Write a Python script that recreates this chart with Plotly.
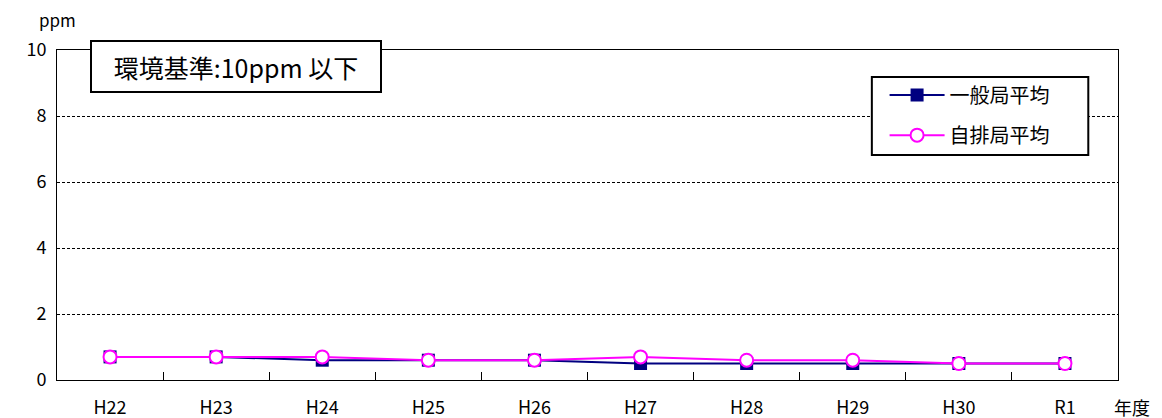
import plotly.graph_objects as go

years = ["H22", "H23", "H24", "H25", "H26", "H27", "H28", "H29", "H30", "R1"]
general = [0.7, 0.7, 0.6, 0.6, 0.6, 0.5, 0.5, 0.5, 0.5, 0.5]
roadside = [0.7, 0.7, 0.7, 0.6, 0.6, 0.7, 0.6, 0.6, 0.5, 0.5]
yticks = [0, 2, 4, 6, 8, 10]

FONT = "Noto Sans CJK JP"

fig = go.Figure()
fig.add_trace(go.Scatter(
    x=years, y=general, name="一般局平均", mode="lines+markers",
    line=dict(color="#000080", width=2),
    marker=dict(symbol="square", size=13, color="#000080"),
    legend="legend",
))
fig.add_trace(go.Scatter(
    x=years, y=roadside, name="自排局平均", mode="lines+markers",
    line=dict(color="#FF00FF", width=2),
    marker=dict(symbol="circle", size=13, color="white", line=dict(color="#FF00FF", width=2)),
    legend="legend2",
))

legend_common = dict(
    xanchor="left", yanchor="middle",
    borderwidth=0, bgcolor="rgba(0,0,0,0)",
    font=dict(family=FONT, size=20),
    itemwidth=55,
)

fig.update_layout(
    width=1162, height=418,
    margin=dict(l=57, r=44, t=50, b=38, autoexpand=False),
    paper_bgcolor="white", plot_bgcolor="white",
    font=dict(family=FONT, color="black", size=18),
    showlegend=True,
    legend=dict(x=0.780, y=0.864, **legend_common),
    legend2=dict(x=0.780, y=0.742, **legend_common),
    xaxis=dict(
        type="category", range=[-0.5, 9.5], automargin=False,
        showline=True, linecolor="black", linewidth=1, mirror=True,
        ticks="inside", ticklen=8, tickcolor="black", tickson="boundaries",
        showgrid=False, tickfont=dict(family=FONT, size=18),
        ticklabelstandoff=11,
    ),
    yaxis=dict(
        range=[0, 10], tickvals=yticks, automargin=False,
        showline=True, linecolor="black", linewidth=1, mirror=True,
        ticks="", showgrid=True, gridcolor="black", gridwidth=1, griddash="3px,2px",
        tickfont=dict(family=FONT, size=18), zeroline=False,
        ticklabelstandoff=6,
    ),
    shapes=[
        dict(type="rect", xref="paper", yref="paper",
             x0=0.768, x1=0.972, y0=0.682, y1=0.918,
             line=dict(color="black", width=2), fillcolor="white", layer="above"),
    ],
    annotations=[
        dict(text="環境基準:10ppm 以下", xref="paper", yref="paper",
             x=0.031, y=1.03, xanchor="left", yanchor="top", showarrow=False,
             font=dict(family=FONT, size=25), bordercolor="black", borderwidth=2,
             borderpad=8, width=272, height=33, bgcolor="white"),
        dict(text="ppm", xref="paper", yref="paper", x=0.0, y=1.091,
             xanchor="center", yanchor="middle", showarrow=False,
             font=dict(family=FONT, size=17)),
        dict(text="年度", xref="paper", yref="paper", x=0.995, y=-0.0818,
             xanchor="left", yanchor="middle", showarrow=False, borderpad=0,
             font=dict(family=FONT, size=18)),
    ],
)

fig.write_html(
    "out.html",
    config={"displayModeBar": False},
    post_script="document.body.style.margin='0';document.body.style.overflow='hidden';",
)
